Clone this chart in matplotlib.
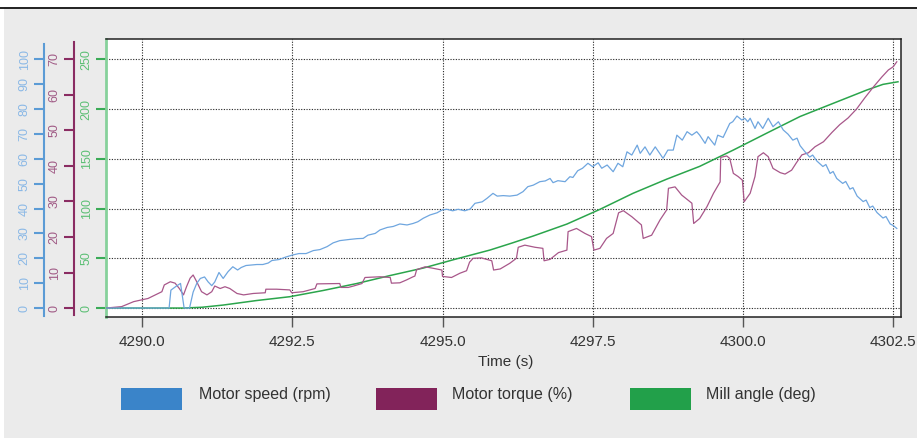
import matplotlib
matplotlib.use("Agg")
import matplotlib.pyplot as plt
from matplotlib.patches import Rectangle
from matplotlib.lines import Line2D

plt.rcParams['font.family'] = ['Liberation Sans', 'DejaVu Sans']

# Data (time in s)
speed_t = [4289.40, 4290.45, 4290.48, 4290.57, 4290.64, 4290.70, 4290.79, 4290.85, 4290.91, 4290.97,
           4291.04, 4291.10, 4291.16, 4291.21, 4291.28, 4291.35, 4291.43, 4291.51, 4291.59, 4291.65,
           4291.73, 4291.83, 4291.91, 4292.01, 4292.10, 4292.16, 4292.28, 4292.38, 4292.50, 4292.61,
           4292.73, 4292.85, 4292.96, 4293.08, 4293.18, 4293.29, 4293.46, 4293.58, 4293.68, 4293.76,
           4293.88, 4293.96, 4294.08, 4294.18, 4294.29, 4294.41, 4294.51, 4294.59, 4294.68, 4294.79,
           4294.91, 4294.99, 4295.07, 4295.17, 4295.26, 4295.37, 4295.46, 4295.54, 4295.66, 4295.74,
           4295.84, 4295.91, 4296.01, 4296.12, 4296.24, 4296.34, 4296.42, 4296.51, 4296.62, 4296.71,
           4296.79, 4296.84, 4296.92, 4297.04, 4297.12, 4297.17, 4297.25, 4297.33, 4297.42, 4297.50,
           4297.59, 4297.65, 4297.74, 4297.84, 4297.92, 4298.00, 4298.07, 4298.15, 4298.24, 4298.29,
           4298.37, 4298.45, 4298.54, 4298.67, 4298.75, 4298.84, 4298.90, 4298.99, 4299.07, 4299.15,
           4299.23, 4299.28, 4299.37, 4299.42, 4299.53, 4299.58, 4299.67, 4299.73, 4299.78, 4299.83,
           4299.90, 4299.98, 4300.03, 4300.08, 4300.12, 4300.20, 4300.25, 4300.33, 4300.42, 4300.50,
           4300.59, 4300.67, 4300.75, 4300.83, 4300.90, 4300.95, 4301.03, 4301.11, 4301.16, 4301.23,
           4301.33, 4301.38, 4301.45, 4301.50, 4301.56, 4301.66, 4301.71, 4301.78, 4301.83, 4301.90,
           4302.00, 4302.05, 4302.11, 4302.16, 4302.23, 4302.33, 4302.38, 4302.45, 4302.50, 4302.56]
speed_rpm = [0, 0, 7.2, 8.8, 9.9, 0, 0, 6.4, 9.9, 11.9,
             12.5, 10.5, 9.0, 10.5, 14.3, 11.9, 14.6, 16.6, 15.3, 16.3,
             17.1, 17.3, 17.5, 17.5, 18.1, 19.1, 19.5, 20.4, 21.3, 21.9,
             21.9, 23.1, 23.5, 24.7, 26.2, 27.1, 27.6, 27.9, 28.0, 29.3,
             30.0, 31.4, 32.4, 32.8, 33.8, 33.4, 34.0, 34.7, 36.1, 37.4,
             38.3, 39.4, 39.7, 39.1, 39.7, 39.1, 39.8, 42.1, 42.7, 44.1,
             46.1, 45.0, 45.2, 45.0, 45.4, 46.8, 48.8, 49.4, 50.8, 51.1,
             52.1, 50.4, 51.2, 50.8, 52.8, 52.5, 55.2, 56.2, 58.2, 56.8,
             58.4, 56.2, 57.5, 54.8, 58.2, 56.8, 62.8, 61.5, 65.5, 62.2,
             64.8, 61.5, 64.8, 60.2, 63.5, 63.5, 69.5, 67.5, 70.9, 69.5,
             70.9, 69.5, 66.2, 68.9, 65.5, 69.5, 68.6, 71.6, 74.2, 74.9,
             77.2, 75.6, 76.3, 74.9, 76.3, 72.2, 74.9, 72.2, 76.3, 72.9,
             74.9, 71.6, 69.9, 67.5, 68.3, 65.3, 62.9, 60.7, 61.5, 59.1,
             56.9, 57.7, 54.1, 54.9, 52.1, 50.1, 50.9, 47.8, 48.4, 45.0,
             42.8, 43.4, 40.4, 41.0, 38.4, 36.2, 36.8, 33.8, 33.2, 32.0]

torque_t = [4289.40, 4289.66, 4289.86, 4290.10, 4290.33, 4290.37, 4290.47, 4290.55, 4290.62, 4290.69,
            4290.74, 4290.80, 4290.85, 4290.91, 4290.99, 4291.08, 4291.16, 4291.21, 4291.30, 4291.38,
            4291.46, 4291.58, 4291.69, 4291.85, 4292.05, 4292.06, 4292.24, 4292.46, 4292.49, 4292.68,
            4292.88, 4292.91, 4293.29, 4293.31, 4293.43, 4293.52, 4293.66, 4293.71, 4293.96, 4294.13,
            4294.15, 4294.29, 4294.40, 4294.51, 4294.54, 4294.57, 4294.71, 4294.84, 4294.99, 4295.00,
            4295.15, 4295.29, 4295.40, 4295.45, 4295.51, 4295.65, 4295.82, 4295.85, 4295.96, 4296.12,
            4296.23, 4296.26, 4296.37, 4296.54, 4296.67, 4296.69, 4296.79, 4296.93, 4297.07, 4297.09,
            4297.23, 4297.37, 4297.48, 4297.52, 4297.62, 4297.73, 4297.84, 4297.93, 4298.01, 4298.15,
            4298.31, 4298.34, 4298.48, 4298.62, 4298.73, 4298.76, 4298.87, 4298.98, 4299.15, 4299.18,
            4299.28, 4299.40, 4299.51, 4299.62, 4299.63, 4299.73, 4299.78, 4299.84, 4299.92, 4299.99,
            4300.02, 4300.12, 4300.20, 4300.25, 4300.34, 4300.42, 4300.50, 4300.62, 4300.70, 4300.81,
            4300.89, 4300.98, 4301.09, 4301.20, 4301.34, 4301.48, 4301.61, 4301.75, 4301.89, 4302.03,
            4302.17, 4302.31, 4302.42, 4302.50, 4302.56]
torque_pct = [0, 0.4, 1.8, 2.7, 4.6, 6.5, 7.4, 7.0, 5.5, 3.7,
              6.0, 8.4, 9.3, 7.4, 4.6, 3.7, 4.6, 6.2, 5.5, 6.0,
              5.5, 4.1, 3.7, 4.1, 4.3, 5.3, 5.3, 5.1, 4.3, 4.6,
              5.5, 6.8, 6.9, 5.8, 5.8, 6.2, 6.9, 8.6, 8.8, 8.6,
              7.0, 7.1, 7.9, 8.8, 9.0, 10.8, 11.6, 11.2, 10.7, 8.9,
              8.6, 9.8, 10.5, 12.9, 14.0, 14.1, 13.3, 10.7, 11.0, 12.6,
              14.0, 17.1, 17.7, 17.1, 16.8, 13.3, 13.7, 15.6, 16.3, 21.5,
              22.4, 21.0, 20.1, 16.3, 16.8, 19.6, 21.0, 26.8, 27.4, 25.7,
              23.4, 19.6, 20.5, 24.8, 27.6, 33.7, 34.1, 31.8, 29.5, 23.8,
              25.2, 28.5, 32.3, 35.5, 42.4, 42.8, 42.1, 37.9, 37.0, 36.0,
              29.9, 32.3, 37.0, 42.6, 43.7, 42.6, 39.3, 38.1, 37.7, 38.8,
              40.9, 43.1, 43.7, 45.4, 46.8, 49.4, 51.6, 53.5, 56.0, 59.2,
              62.2, 65.0, 67.0, 67.9, 69.3]

angle_t = [4289.40, 4290.68, 4291.00, 4291.35, 4291.90, 4292.46, 4293.01, 4293.57, 4294.13, 4294.68,
           4295.22, 4295.79, 4296.15, 4296.51, 4297.07, 4297.62, 4298.17, 4298.73, 4299.28, 4299.84,
           4300.39, 4300.95, 4301.50, 4302.06, 4302.33, 4302.58]
angle_deg = [0, 0, 0.8, 3.0, 7.5, 11.4, 17.6, 24.6, 32.7, 40.2,
             49.2, 58.3, 65.2, 72.4, 84.4, 99.2, 115.3, 129.5, 142.4, 158.8,
             175.6, 192.5, 205.7, 219.1, 224.8, 227.4]

x_ticks = [4290.0, 4292.5, 4295.0, 4297.5, 4300.0, 4302.5]
speed_ticks = list(range(0, 101, 10))
torque_ticks = list(range(0, 71, 10))
angle_ticks = list(range(0, 251, 50))
legend_labels = ["Motor speed (rpm)", "Motor torque (%)", "Mill angle (deg)"]

W, H = 917, 438
fig = plt.figure(figsize=(W / 100, H / 100), dpi=100)
fig.patch.set_facecolor('#ebebeb')

# white strip on top with a black rule, thin white strip on the left
fig.add_artist(Rectangle((0, 1 - 7 / H), 1, 7 / H, transform=fig.transFigure,
                         facecolor='white', edgecolor='none'))
fig.add_artist(Rectangle((0, 0), 4 / W, 1, transform=fig.transFigure,
                         facecolor='white', edgecolor='none'))
fig.add_artist(Line2D([0, 1], [1 - 7.5 / H] * 2, transform=fig.transFigure,
                      color='#111111', lw=1.3))

pos = [106 / W, 121.5 / H, 795 / W, 277.8 / H]
ax = fig.add_axes(pos)
ax.set_facecolor('white')
ax.set_xlim(4289.40, 4302.63)
ang_lim = (-8.5, 270.7)
ax.set_ylim(ang_lim)

for s in ['top', 'right', 'bottom']:
    ax.spines[s].set_color('#222222')
    ax.spines[s].set_linewidth(1.1)
ax.spines['left'].set_color('#86d19b')
ax.spines['left'].set_linewidth(2)

ax.grid(True, color='#222222', linestyle=(0, (1, 1.4)), linewidth=0.8)
ax.set_axisbelow(True)

ax.set_xticks(x_ticks)
ax.set_xticklabels(["%.1f" % v for v in x_ticks])
ax.tick_params(axis='x', direction='out', length=7, width=1, color='#555555',
               pad=6, labelsize=11, labelcolor='#333333')
ax.set_yticks(angle_ticks)
ax.tick_params(axis='y', length=7, width=1.5, color='#3aab57', labelcolor='#5cbf75',
               labelsize=9, pad=2.5, labelrotation=90)
for lbl in ax.get_yticklabels():
    lbl.set_va('center')

ax.set_xlabel("Time (s)", fontsize=11, color='#333333', va='center')
ax.xaxis.set_label_coords(0.503, -0.163)

ax.plot(angle_t, angle_deg, color='#2ba54c', lw=1.1, zorder=3)


def extra_axis(offset, lim, bounds, ticks, spine_col, label_col):
    a = fig.add_axes(pos, sharex=ax)
    a.patch.set_visible(False)
    for s in ['top', 'right', 'bottom']:
        a.spines[s].set_visible(False)
    a.spines['left'].set_position(('axes', offset))
    a.spines['left'].set_bounds(*bounds)
    a.spines['left'].set_color(spine_col)
    a.spines['left'].set_linewidth(1.5)
    a.set_ylim(lim)
    a.set_yticks(ticks)
    a.tick_params(axis='x', bottom=False, labelbottom=False)
    a.tick_params(axis='y', length=7, width=1.5, color=spine_col, labelcolor=label_col,
                  labelsize=9, pad=2.5, labelrotation=90)
    for lbl in a.get_yticklabels():
        lbl.set_va('center')
    return a


ax_t = extra_axis(-32 / 795, (ang_lim[0] * 0.28, ang_lim[1] * 0.28), (-2, 74.8),
                  torque_ticks, '#8a2c62', '#a05a85')
ax_t.plot(torque_t, torque_pct, color='#a8578a', lw=0.9)

ax_s = extra_axis(-62 / 795, (ang_lim[0] / 2.5, ang_lim[1] / 2.5), (-3, 106),
                  speed_ticks, '#5b9bd5', '#8ab8e6')
ax_s.plot(speed_t, speed_rpm, color='#6fa6df', lw=0.9)

# legend boxes below the plot
patch_cols = ['#3a84c9', '#82235a', '#22a04a']
box_x = [121, 376, 630]
text_x = [199, 452, 706]
for lab, col, bx, tx in zip(legend_labels, patch_cols, box_x, text_x):
    fig.add_artist(Rectangle((bx / W, 28 / H), 61 / W, 22 / H, transform=fig.transFigure,
                             facecolor=col, edgecolor='none'))
    fig.text(tx / W, (H - 394) / H, lab, fontsize=11.5, color='#333333', va='center')

fig.savefig("out.png", dpi=100, facecolor=fig.get_facecolor())
